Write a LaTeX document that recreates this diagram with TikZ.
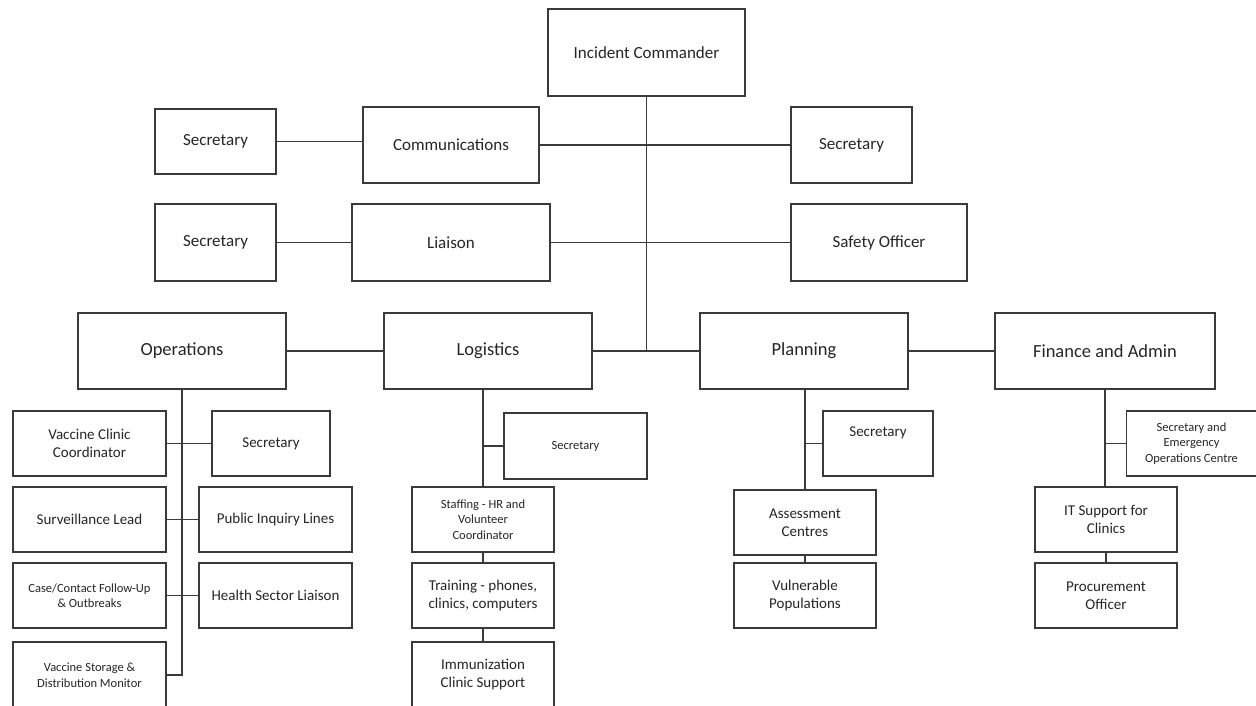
\documentclass[tikz,border=0pt]{standalone}
\usepackage{fontspec}
\setmainfont{Carlito}
\definecolor{linec}{HTML}{3A3A3A}
\definecolor{textc}{HTML}{262626}
\tikzset{
  box/.style={draw=linec, line width=1.3pt, inner sep=2pt, align=center, text=textc},
  bigbox/.style={box, font=\fontsize{17}{20}\selectfont},
  midbox/.style={box, font=\fontsize{18.5}{22}\selectfont},
  smbox/.style={box, font=\fontsize{15}{18}\selectfont},
  tinybox/.style={box, font=\fontsize{12.5}{15.5}\selectfont},
  conn/.style={draw=linec, line width=1.3pt},
  wh/.style 2 args={minimum width=#1pt, minimum height=#2pt}
}
\begin{document}
\begin{tikzpicture}[x=1pt,y=-1pt]
\useasboundingbox[fill=white] (0,0) rectangle (1256,706);
\begin{scope}
\clip (0,0) rectangle (1256,706);
% top tier
\node[bigbox, wh={197}{87}] (ic) at (646.5,52.5) {Incident Commander};
\node[bigbox, wh={121}{65}] (secC) at (215.5,141.5) {Secretary};
\node[bigbox, wh={176}{76}] (comm) at (451,145) {Communications};
\node[bigbox, wh={121}{76}] (secR) at (851.5,145) {Secretary};
\node[bigbox, wh={121}{77}] (secL) at (215.5,242.5) {Secretary};
\node[bigbox, wh={198}{77}] (liai) at (451,242.5) {Liaison};
\node[bigbox, wh={176}{77}] (safe) at (879,242.5) {Safety Officer};
% second tier
\node[midbox, wh={208}{76}] (ops) at (182,351) {Operations};
\node[midbox, wh={208}{76}] (log) at (488,351) {Logistics};
\node[midbox, wh={208}{76}] (plan) at (804,351) {Planning};
\node[midbox, wh={220}{76}] (fin) at (1105,351) {Finance and Admin};
% operations children
\node[smbox, wh={153}{65}] (vcc) at (89.5,443.5) {Vaccine Clinic\\Coordinator};
\node[smbox, wh={118}{65}] (secO) at (271,443.5) {Secretary};
\node[smbox, wh={153}{65}] (surv) at (89.5,519.5) {Surveillance Lead};
\node[smbox, wh={153}{65}] (pil) at (275.5,519.5) {Public Inquiry Lines};
\node[tinybox, wh={153}{65}] (case) at (89.5,595.5) {Case/Contact Follow-Up\\\&~Outbreaks};
\node[smbox, wh={153}{65}] (hsl) at (275.5,595.5) {Health Sector Liaison};
\node[tinybox, wh={153}{66}] (vsd) at (89.5,675) {Vaccine Storage \&\\Distribution Monitor};
% logistics children
\node[tinybox, wh={143}{66}] (secLg) at (575.5,446) {Secretary};
\node[tinybox, wh={142}{65}] (staff) at (483,519.5) {Staffing - HR and\\Volunteer\\Coordinator};
\node[smbox, wh={142}{65}] (train) at (483,595.5) {Training - phones,\\clinics, computers};
\node[smbox, wh={142}{66}] (imm) at (483,675) {Immunization\\Clinic Support};
% planning children
\node[smbox, wh={110}{65}] (secP) at (878,443.5) {Secretary\\\strut};
\node[smbox, wh={142}{65}] (assess) at (805,522.5) {Assessment\\Centres};
\node[smbox, wh={142}{65}] (vuln) at (805,595.5) {Vulnerable\\Populations};
% finance children
\node[tinybox, wh={130}{65}] (secF) at (1191.5,443.5) {Secretary and\\Emergency\\Operations Centre};
\node[smbox, wh={142}{65}] (it) at (1106,519.5) {IT Support for\\Clinics};
\node[smbox, wh={142}{65}] (proc) at (1106,595.5) {Procurement\\Officer};
% connectors: top
\draw[conn] (ic.south) -- (ic.south |- log.east);
\draw[conn] (secC.east) -- (secC.east -| comm.west);
\draw[conn] (comm.east) -- (secR.west);
\draw[conn] (secL.east) -- (liai.west);
\draw[conn] (liai.east) -- (safe.west);
\draw[conn] (ops.east) -- (log.west);
\draw[conn] (log.east) -- (plan.west);
\draw[conn] (plan.east) -- (fin.west);
% operations
\draw[conn] (ops.south) -- (ops.south |- vsd.east) -- (vsd.east);
\draw[conn] (vcc.east) -- (secO.west);
\draw[conn] (surv.east) -- (pil.west);
\draw[conn] (case.east) -- (hsl.west);
% logistics
\draw[conn] (staff.north |- log.south) -- (staff.north);
\draw[conn] (staff.north |- secLg.west) -- (secLg.west);
\draw[conn] (staff.south) -- (train.north);
\draw[conn] (train.south) -- (imm.north);
% planning
\draw[conn] (assess.north |- plan.south) -- (assess.north);
\draw[conn] (assess.north |- secP.west) -- (secP.west);
\draw[conn] (assess.south) -- (vuln.north);
% finance
\draw[conn] (fin.south) -- (fin.south |- it.north);
\draw[conn] (fin.south |- secF.west) -- (secF.west);
\draw[conn] (it.south) -- (proc.north);
\end{scope}
\end{tikzpicture}
\end{document}
